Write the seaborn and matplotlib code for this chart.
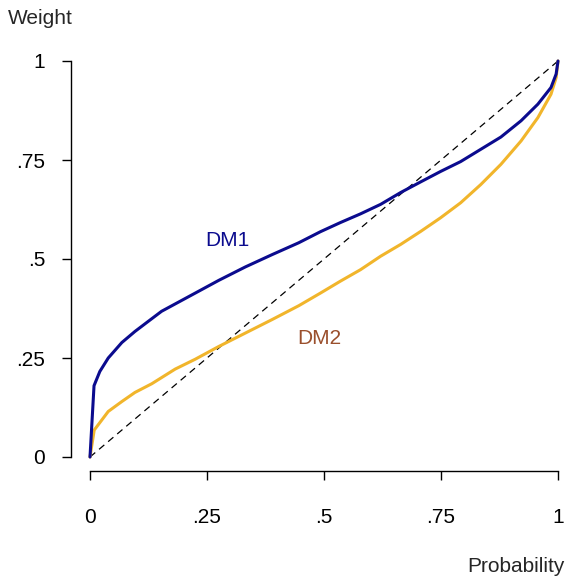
import matplotlib
matplotlib.use("Agg")
import matplotlib.pyplot as plt
import numpy as np
import pandas as pd
import seaborn as sns

# Probability weighting functions for two decision makers
dm1_prob = [0.0, 0.0086, 0.021, 0.039, 0.068, 0.096, 0.125, 0.153, 0.189,
            0.225, 0.275, 0.332, 0.389, 0.446, 0.4925, 0.535, 0.578, 0.621,
            0.664, 0.707, 0.749, 0.792, 0.835, 0.878, 0.921, 0.957, 0.985,
            0.996, 1.0]
dm1_weight = [0.0, 0.18, 0.216, 0.25, 0.289, 0.317, 0.343, 0.368, 0.391,
              0.414, 0.446, 0.48, 0.511, 0.541, 0.569, 0.592, 0.614, 0.638,
              0.668, 0.695, 0.721, 0.746, 0.777, 0.808, 0.849, 0.891, 0.933,
              0.967, 1.0]

dm2_prob = [0.0, 0.009, 0.039, 0.068, 0.096, 0.132, 0.182, 0.225, 0.275,
            0.332, 0.389, 0.446, 0.4925, 0.535, 0.578, 0.621, 0.664, 0.707,
            0.749, 0.792, 0.835, 0.878, 0.921, 0.957, 0.985, 0.996, 1.0]
dm2_weight = [0.0, 0.068, 0.115, 0.14, 0.163, 0.185, 0.222, 0.247, 0.279,
              0.313, 0.347, 0.382, 0.414, 0.444, 0.473, 0.507, 0.537, 0.57,
              0.604, 0.642, 0.688, 0.739, 0.798, 0.857, 0.916, 0.958, 1.0]

ticks = [0, 0.25, 0.5, 0.75, 1]
tick_labels = ["0", ".25", ".5", ".75", "1"]

df = pd.concat([
    pd.DataFrame({"p": dm1_prob, "w": dm1_weight, "dm": "DM1"}),
    pd.DataFrame({"p": dm2_prob, "w": dm2_weight, "dm": "DM2"}),
])

sns.set_style("white")
plt.rcParams["font.family"] = ["Liberation Sans", "DejaVu Sans"]

W, H = 566, 581
fig = plt.figure(figsize=(W / 100, H / 100), dpi=100)
ax = fig.add_axes([90 / W, 1 - 457 / H, (558 - 90) / W, (457 - 61) / H])

navy = "#0B0B8E"
gold = "#F1B52B"
sienna = "#9A4F2C"

ax.plot([0, 1], [0, 1], color="black", lw=0.9, ls=(0, (5.5, 4)), clip_on=False, zorder=1)
sns.lineplot(data=df, x="p", y="w", hue="dm", palette={"DM1": navy, "DM2": gold},
             hue_order=["DM2", "DM1"], estimator=None, sort=True, lw=2.2,
             legend=False, ax=ax, clip_on=False)

ax.set_xlim(0, 1)
ax.set_ylim(0, 1)
ax.set_xticks(ticks, tick_labels)
ax.set_yticks(ticks, tick_labels)
ax.set_xlabel("")
ax.set_ylabel("")

for side in ["top", "right"]:
    ax.spines[side].set_visible(False)
ax.spines["left"].set_position(("outward", 13.7))
ax.spines["bottom"].set_position(("outward", 10))
ax.spines["left"].set_bounds(0, 1)
ax.spines["bottom"].set_bounds(0, 1)
for side in ["left", "bottom"]:
    ax.spines[side].set_linewidth(1.0)
    ax.spines[side].set_color("black")

ax.tick_params(axis="both", direction="out", length=6.5, width=1.0, color="black",
               labelsize=15, labelcolor="black", bottom=True, left=True)
ax.tick_params(axis="y", pad=12)
ax.tick_params(axis="x", pad=20)

ax.text(0.293, 0.547, "DM1", color=navy, fontsize=15, ha="center", va="center")
ax.text(0.49, 0.30, "DM2", color=sienna, fontsize=15, ha="center", va="center")

fig.text(8 / W, 1 - 18 / H, "Weight", fontsize=15, ha="left", va="center")
fig.text(565 / W, 1 - 567 / H, "Probability", fontsize=15, ha="right", va="center")

fig.savefig("out.png", dpi=100)
